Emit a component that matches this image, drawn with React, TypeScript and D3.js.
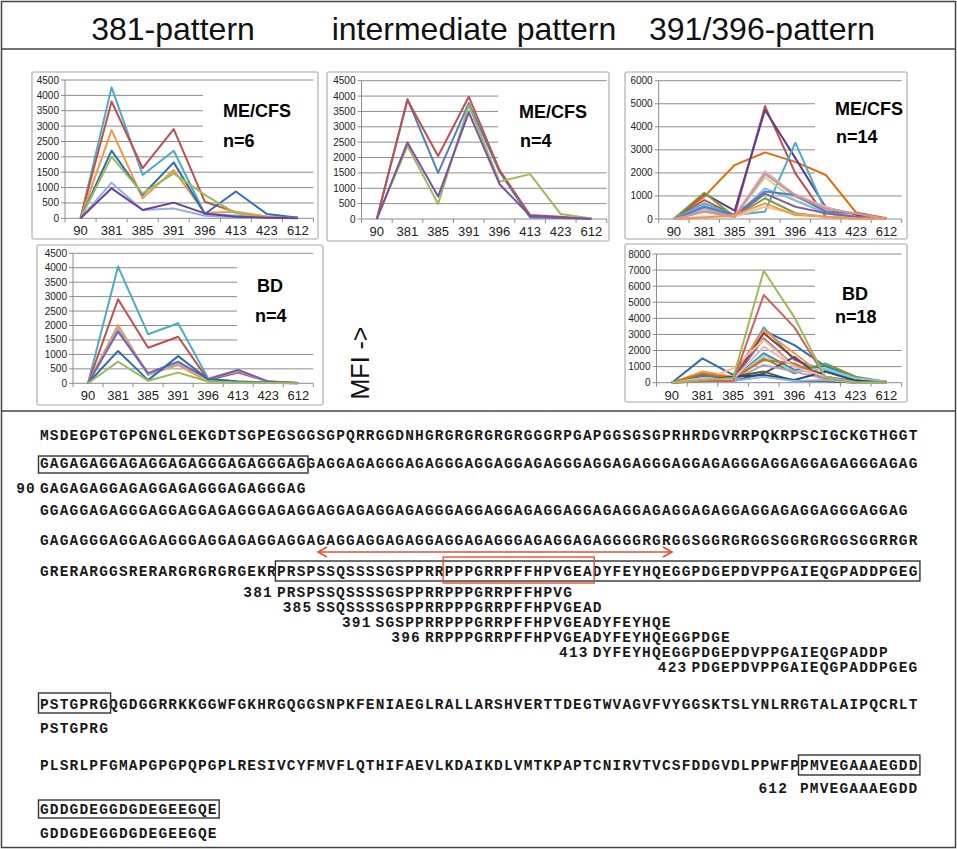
import * as d3 from 'd3';

// peptide start positions on the x axis of every panel
const positions = ['90', '381', '385', '391', '396', '413', '423', '612'];

// ME/CFS, 381-pattern, n=6
const cfs381 = [
  [0, 4260, 1410, 2200, 150, 80, 40, 10],
  [0, 3800, 1630, 2900, 540, 200, 50, 20],
  [0, 2870, 650, 1570, 180, 210, 60, 20],
  [0, 2200, 760, 1820, 140, 870, 140, 20],
  [0, 2000, 810, 1460, 760, 160, 30, 10],
  [0, 1160, 270, 320, 80, 30, 20, 10],
  [0, 975, 270, 510, 160, 50, 20, 5],
];
const cfs381Colors = ['#4BACC6', '#C0504D', '#F79646', '#2E6DB4', '#9BBB59', '#95B3D7', '#6B3FA0'];

// ME/CFS, intermediate pattern, n=4
const cfsMid = [
  [0, 3900, 1500, 3770, 1540, 50, 30, 10],
  [0, 3870, 2050, 3980, 1600, 130, 75, 0],
  [0, 2380, 490, 3700, 1215, 1460, 160, 20],
  [0, 2490, 730, 3470, 1140, 100, 50, 10],
];
const cfsMidColors = ['#4F81BD', '#C0504D', '#9BBB59', '#7F4FA6'];

// ME/CFS, 391/396-pattern, n=14
const cfs391 = [
  [0, 970, 2340, 2890, 2480, 1910, 280, 30],
  [0, 820, 170, 4900, 1980, 100, 30, 10],
  [0, 1100, 360, 4730, 2640, 500, 170, 20],
  [0, 680, 170, 320, 3310, 320, 30, 10],
  [0, 1140, 100, 900, 250, 100, 20, 0],
  [0, 460, 130, 2080, 1040, 530, 100, 10],
  [0, 370, 100, 1810, 800, 320, 50, 0],
  [0, 460, 100, 1980, 970, 400, 30, 10],
  [0, 590, 100, 1330, 800, 250, 20, 0],
  [0, 530, 170, 1190, 1040, 320, 250, 10],
  [0, 320, 100, 1100, 530, 250, 100, 10],
  [0, 100, 100, 530, 210, 100, 20, 0],
  [0, 70, 170, 680, 170, 100, 20, 0],
  [0, 320, 100, 1940, 1040, 460, 240, 10],
];
const cfs391Colors = [
  '#E36C09', '#C0504D', '#5F3C8C', '#4BACC6', '#77A03C', '#E6B9B8', '#C3D69B',
  '#B3A2C7', '#8EB4E3', '#4F81BD', '#8064A2', '#FAC090', '#F79646', '#D99694',
];

// BD, 381-pattern, n=4
const bd381 = [
  [0, 4040, 1700, 2080, 170, 60, 30, 10],
  [0, 2910, 1230, 1610, 110, 370, 60, 10],
  [0, 2020, 290, 630, 60, 30, 20, 0],
  [0, 1840, 290, 710, 170, 460, 60, 10],
  [0, 1900, 330, 680, 150, 420, 50, 10],
  [0, 1790, 350, 750, 140, 460, 60, 10],
  [0, 1120, 110, 940, 140, 60, 20, 0],
  [0, 750, 90, 370, 60, 30, 10, 0],
];
const bd381Colors = ['#4BACC6', '#C0504D', '#F79646', '#B3A2C7', '#95B3D7', '#7F5FA8', '#2E6DB4', '#9BBB59'];

// BD, 391/396-pattern, n=18
const bd391 = [
  [0, 1510, 480, 3230, 2340, 1040, 270, 60],
  [0, 370, 170, 3440, 1410, 790, 190, 60],
  [0, 690, 370, 3270, 1830, 370, 130, 20],
  [0, 500, 200, 3070, 1510, 310, 60, 0],
  [0, 370, 170, 2760, 1040, 370, 60, 0],
  [0, 170, 890, 2650, 1000, 170, 20, 0],
  [0, 480, 200, 1830, 790, 1040, 270, 60],
  [0, 270, 170, 1510, 580, 1200, 370, 60],
  [0, 270, 170, 1720, 690, 900, 270, 60],
  [0, 170, 100, 580, 1610, 100, 10, 0],
  [0, 170, 170, 1100, 690, 230, 20, 0],
  [0, 100, 370, 690, 100, 100, 10, 0],
  [0, 580, 310, 1410, 1200, 310, 60, 0],
  [0, 170, 370, 480, 170, 690, 130, 0],
  [0, 270, 200, 2240, 1000, 370, 20, 0],
  [0, 100, 100, 370, 100, 170, 10, 0],
  [0, 100, 100, 5450, 3440, 370, 50, 0],
  [0, 170, 290, 6960, 4060, 370, 20, 0],
];
const bd391Colors = [
  '#2E6DB4', '#4BACC6', '#F79646', '#953735', '#8064A2', '#FAC090', '#31859C', '#77933C', '#93CDDD',
  '#5F497A', '#B3A2C7', '#4F6228', '#E46C0A', '#1F497D', '#E6B9B8', '#8DB3E2', '#D36060', '#9BBB59',
];

const columnTitles = ['381-pattern', 'intermediate pattern', '391/396-pattern'];

// EBNA-1 sequence rows as printed
const seqRows = [
  'MSDEGPGTGPGNGLGEKGDTSGPEGSGGSGPQRRGGDNHGRGRGRGRGRGGGRPGAPGGSGSGPRHRDGVRRPQKRPSCIGCKGTHGGT',
  'GAGAGAGGAGAGGAGAGGGAGAGGGAGGAGGAGAGGGAGAGGGAGGAGGAGAGGGAGGAGAGGGAGGAGAGGGAGGAGGAGAGGGAGAG',
  'GGAGGAGAGGGAGGAGGAGAGGGAGAGGAGGAGAGGAGAGGGAGGAGGAGAGGAGGAGAGGAGAGGAGAGGAGGAGAGGAGGGAGGAG',
  'GAGAGGGAGGAGAGGGAGGAGAGGAGGAGAGGAGGAGAGGAGGAGAGGGAGAGGAGAGGGGRGRGGSGGRGRGGSGGRGRGGSGGRRGR',
  'GRERARGGSRERARGRGRGRGEKRPRSPSSQSSSSGSPPRRPPPGRRPFFHPVGEADYFEYHQEGGPDGEPDVPPGAIEQGPADDPGEG',
  'PSTGPRGQGDGGRRKKGGWFGKHRGQGGSNPKFENIAEGLRALLARSHVERTTDEGTWVAGVFVYGGSKTSLYNLRRGTALAIPQCRLT',
  'PLSRLPFGMAPGPGPQPGPLRESIVCYFMVFLQTHIFAEVLKDAIKDLVMTKPAPTCNIRVTVCSFDDGVDLPPWFPPMVEGAAAEGDD',
  'GDDGDEGGDGDEGEEGQE',
];

// peptides: label, start column in the sequence row, sequence
const peptideLabels = ['90', '381', '385', '391', '396', '413', '423', '', '612', ''];
const peptideCols = [0, 24, 28, 34, 39, 56, 66, 0, 77, 0];
const peptideSeqs = [
  'GAGAGAGGAGAGGAGAGGGAGAGGGAG',
  'PRSPSSQSSSSGSPPRRPPPGRRPFFHPVG',
  'SSQSSSSGSPPRRPPPGRRPFFHPVGEAD',
  'SGSPPRRPPPGRRPFFHPVGEADYFEYHQE',
  'RRPPPGRRPFFHPVGEADYFEYHQEGGPDGE',
  'DYFEYHQEGGPDGEPDVPPGAIEQGPADDP',
  'PDGEPDVPPGAIEQGPADDPGEG',
  'PSTGPRG',
  'PMVEGAAAEGDD',
  'GDDGDEGGDGDEGEEGQE',
];

const W = 957;
const H = 849;
const SANS = '"Liberation Sans", Arial, sans-serif';
const MONO = '"Liberation Mono", "Courier New", monospace';
const FS = 14.5;
const CH = 9.87; // one residue
const SX = 40;
const colX = (c: number) => SX + c * CH;

interface PanelSpec {
  series: number[][];
  colors: string[];
  yMax: number;
  yStep: number;
  box: number[];
  plot: number[];
  blank: number[];
  label: string[];
  labelPos: number[][];
}

const panels: PanelSpec[] = [
  {
    series: cfs381, colors: cfs381Colors, yMax: 4500, yStep: 500,
    box: [32, 72, 318, 239], plot: [65, 80, 313.5, 218.3], blank: [203, 85, 313.5, 166],
    label: ['ME/CFS', 'n=6'], labelPos: [[223, 117], [223, 147]],
  },
  {
    series: cfsMid, colors: cfsMidColors, yMax: 4500, yStep: 500,
    box: [327, 72, 609, 241], plot: [361.5, 80.7, 606.7, 219], blank: [498, 86, 606.7, 168],
    label: ['ME/CFS', 'n=4'], labelPos: [[519, 118], [520, 147]],
  },
  {
    series: cfs391, colors: cfs391Colors, yMax: 6000, yStep: 1000,
    box: [625, 72, 907, 239], plot: [658.7, 80.7, 901.7, 219], blank: [815, 86, 901.7, 186],
    label: ['ME/CFS', 'n=14'], labelPos: [[835, 115], [836, 143]],
  },
  {
    series: bd381, colors: bd381Colors, yMax: 4500, yStep: 500,
    box: [37, 245, 323, 405], plot: [73, 253.3, 313.3, 383.3], blank: [237, 262, 313.3, 348],
    label: ['BD', 'n=4'], labelPos: [[257, 292], [255, 322]],
  },
  {
    series: bd391, colors: bd391Colors, yMax: 8000, yStep: 1000,
    box: [625, 244, 907, 402], plot: [656.5, 254, 901.7, 382.7], blank: [815, 262, 901.7, 345],
    label: ['BD', 'n=18'], labelPos: [[842, 300], [835, 323]],
  },
];

function Panel({ p }: { p: PanelSpec }) {
  const [x0, y1, x1, y0] = p.plot;
  const x = d3.scaleBand<string>().domain(positions).range([x0, x1]);
  const y = d3.scaleLinear().domain([0, p.yMax]).range([y0, y1]);
  const ticks = d3.range(0, p.yMax + 1, p.yStep);
  const cx = (i: number) => (x(positions[i]) as number) + x.bandwidth() / 2;
  const line = d3.line<number>().x((_, i) => cx(i)).y((v) => y(v));
  const edges = d3.range(positions.length + 1).map((i) => x0 + i * x.step());
  const [bx0, by0, bx1, by1] = p.box;
  const [wx0, wy0, wx1, wy1] = p.blank;

  return (
    <g>
      <rect x={bx0} y={by0} width={bx1 - bx0} height={by1 - by0} rx={2} fill="#fff" stroke="#c4c4c4" strokeWidth={1.6} />
      {ticks.slice(1).map((t) => (
        <line key={t} x1={x0} x2={x1} y1={y(t)} y2={y(t)} stroke="#8c8c8c" strokeWidth={1} />
      ))}
      <rect x={wx0} y={wy0} width={wx1 - wx0 + 1} height={wy1 - wy0} fill="#fff" />
      <line x1={x0} x2={x0} y1={y1} y2={y0} stroke="#8c8c8c" strokeWidth={1} />
      <line x1={x0} x2={x1} y1={y0} y2={y0} stroke="#8c8c8c" strokeWidth={1} />
      {ticks.map((t) => (
        <line key={'t' + t} x1={x0 - 4} x2={x0} y1={y(t)} y2={y(t)} stroke="#8c8c8c" strokeWidth={1} />
      ))}
      {edges.map((e, i) => (
        <line key={'e' + i} x1={e} x2={e} y1={y0} y2={y0 + 4} stroke="#8c8c8c" strokeWidth={1} />
      ))}
      {ticks.map((t) => (
        <text key={'l' + t} x={x0 - 6} y={y(t) + 3.5} textAnchor="end" fontSize={10} fontFamily={SANS} fill="#222">
          {t}
        </text>
      ))}
      {positions.map((c, i) => (
        <text key={c} x={cx(i)} y={y0 + 17} textAnchor="middle" fontSize={13} fontFamily={SANS} fill="#222">
          {c}
        </text>
      ))}
      {p.series.map((s, i) => (
        <path key={i} d={line(s) ?? ''} fill="none" stroke={p.colors[i]} strokeWidth={2} strokeLinejoin="round" />
      ))}
      {p.label.map((t, i) => (
        <text key={t} x={p.labelPos[i][0]} y={p.labelPos[i][1]} fontSize={18} fontWeight="bold" fontFamily={SANS} fill="#000">
          {t}
        </text>
      ))}
    </g>
  );
}

function Mono({ x, y, text, fill = '#1a1a1a' }: { x: number; y: number; text: string; fill?: string }) {
  return (
    <text x={x} y={y} fontFamily={MONO} fontSize={FS} fontWeight="bold" letterSpacing={CH - 0.6 * FS} fill={fill}>
      {text}
    </text>
  );
}

function SeqBox({ c0, c1, y0, y1, color = '#333' }: { c0: number; c1: number; y0: number; y1: number; color?: string }) {
  return <rect x={colX(c0) - 1.5} y={y0} width={colX(c1) - colX(c0) + 3} height={y1 - y0} fill="none" stroke={color} strokeWidth={1.4} />;
}

function Sequence() {
  const rowY = [440, 468, 515, 545, 576, 709, 770];
  const pepY = [493, 597, 612, 627, 642, 657, 672, 733, 793, 838];
  const red = '#E4502C';
  const ax0 = 318;
  const ax1 = 672;
  const ay = 552;
  return (
    <g>
      {seqRows.slice(0, 7).map((r, i) => (
        <Mono key={i} x={colX(0)} y={rowY[i]} text={r} />
      ))}
      <Mono x={colX(0)} y={814} text={seqRows[7]} />
      {peptideSeqs.map((s, i) => {
        const lab = peptideLabels[i];
        const gap = lab === '612' ? CH + 2 : 4;
        return (
          <g key={i}>
            {lab && <Mono x={colX(peptideCols[i] - lab.length) - gap} y={pepY[i]} text={lab} />}
            <Mono x={colX(peptideCols[i])} y={pepY[i]} text={s} />
          </g>
        );
      })}
      <SeqBox c0={0} c1={27} y0={456} y1={473} />
      <SeqBox c0={24} c1={89} y0={561} y1={581} />
      <SeqBox c0={41} c1={56} y0={557} y1={583} color={red} />
      <SeqBox c0={0} c1={7} y0={693} y1={713} />
      <SeqBox c0={77} c1={89} y0={755} y1={775} />
      <SeqBox c0={0} c1={18} y0={800} y1={818} />
      <line x1={ax0} x2={ax1} y1={ay} y2={ay} stroke={red} strokeWidth={1.6} />
      <path d={`M${ax0 + 9},${ay - 5} L${ax0},${ay} L${ax0 + 9},${ay + 5}`} fill="none" stroke={red} strokeWidth={1.6} />
      <path d={`M${ax1 - 9},${ay - 5} L${ax1},${ay} L${ax1 - 9},${ay + 5}`} fill="none" stroke={red} strokeWidth={1.6} />
    </g>
  );
}

export default function App() {
  const titleX = [173, 474, 762];
  return (
    <svg width={W} height={H} viewBox={`0 0 ${W} ${H}`} style={{ position: 'absolute', left: 0, top: 0, background: '#fff' }}>
      <rect x={1.5} y={1.5} width={W - 3} height={H - 3} fill="#fff" stroke="#444" strokeWidth={1.5} />
      <line x1={1.5} x2={W - 1.5} y1={49} y2={49} stroke="#444" strokeWidth={1.5} />
      <line x1={1.5} x2={W - 1.5} y1={411} y2={411} stroke="#444" strokeWidth={1.5} />
      {columnTitles.map((t, i) => (
        <text key={t} x={titleX[i]} y={40} textAnchor="middle" fontSize={32} fontFamily={SANS} fill="#111">
          {t}
        </text>
      ))}
      {panels.map((p, i) => (
        <Panel key={i} p={p} />
      ))}
      <text transform="translate(369,363) rotate(-90)" textAnchor="middle" fontSize={25} fontFamily={SANS} fill="#111">
        {'MFI ->'}
      </text>
      <Sequence />
    </svg>
  );
}
